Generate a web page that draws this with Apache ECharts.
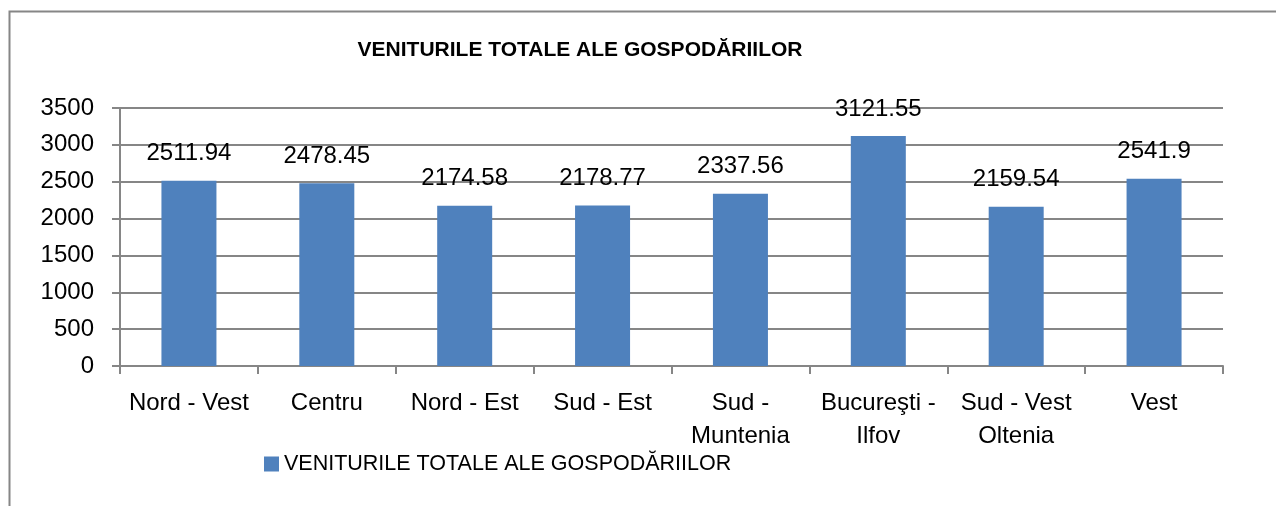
<!DOCTYPE html>
<html>
<head>
<meta charset="utf-8">
<script src="https://cdn.jsdelivr.net/npm/echarts@6/dist/echarts.min.js"></script>
<style>
html,body{margin:0;padding:0;background:#fff;}
#chart{width:1276px;height:506px;}
</style>
</head>
<body>
<div id="chart"></div>
<script>
const chartTitle = 'VENITURILE TOTALE ALE GOSPODĂRIILOR';
const seriesName = 'VENITURILE TOTALE ALE GOSPODĂRIILOR';
const categories = ['Nord - Vest', 'Centru', 'Nord - Est', 'Sud - Est', 'Sud -\nMuntenia', 'Bucureşti -\nIlfov', 'Sud - Vest\nOltenia', 'Vest'];
const values = [2511.94, 2478.45, 2174.58, 2178.77, 2337.56, 3121.55, 2159.54, 2541.9];

const FONT = '"Liberation Sans", Arial, sans-serif';
const GRAY = '#868686';

const chart = echarts.init(document.getElementById('chart'), null, {renderer: 'canvas'});
chart.setOption({
  animation: false,
  backgroundColor: '#fff',
  textStyle: {fontFamily: FONT, color: '#000'},
  graphic: [{
    type: 'rect',
    shape: {x: 9.5, y: 11.5, width: 1400, height: 700},
    style: {fill: 'none', stroke: GRAY, lineWidth: 2},
    silent: true
  }],
  title: {
    text: chartTitle,
    left: 580,
    textAlign: 'center',
    top: 40,
    padding: 0,
    textStyle: {fontFamily: FONT, fontWeight: 'bold', fontSize: 21, color: '#000'}
  },
  legend: {
    left: 264,
    top: 453,
    padding: 0,
    icon: 'rect',
    itemWidth: 15,
    itemHeight: 15,
    itemGap: 6,
    textStyle: {fontFamily: FONT, fontSize: 21.5, color: '#000', padding: [0, 0, 0, 0]},
    data: [seriesName]
  },
  grid: {left: 120, right: 53, top: 108, bottom: 140, containLabel: false},
  xAxis: {
    type: 'category',
    data: categories,
    boundaryGap: true,
    axisLine: {show: true, lineStyle: {color: GRAY, width: 2}},
    axisTick: {show: true, alignWithLabel: false, length: 8, lineStyle: {color: GRAY, width: 2}},
    axisLabel: {
      interval: 0,
      margin: 21,
      fontFamily: FONT,
      fontSize: 24,
      lineHeight: 33,
      color: '#000',
      verticalAlign: 'top'
    },
    splitLine: {show: false}
  },
  yAxis: {
    type: 'value',
    min: 0,
    max: 3500,
    interval: 500,
    axisLine: {show: true, lineStyle: {color: GRAY, width: 2}},
    axisTick: {show: true, length: 8, lineStyle: {color: GRAY, width: 2}},
    axisLabel: {margin: 26, fontFamily: FONT, fontSize: 24, color: '#000', formatter: function (v) { return String(v); }},
    splitLine: {show: true, lineStyle: {color: GRAY, width: 2}}
  },
  series: [{
    name: seriesName,
    type: 'bar',
    data: values,
    barWidth: 55,
    itemStyle: {color: '#4F81BD'},
    label: {
      show: true,
      position: 'top',
      distance: 15,
      fontFamily: FONT,
      fontSize: 24,
      color: '#000'
    }
  }]
});
</script>
</body>
</html>
